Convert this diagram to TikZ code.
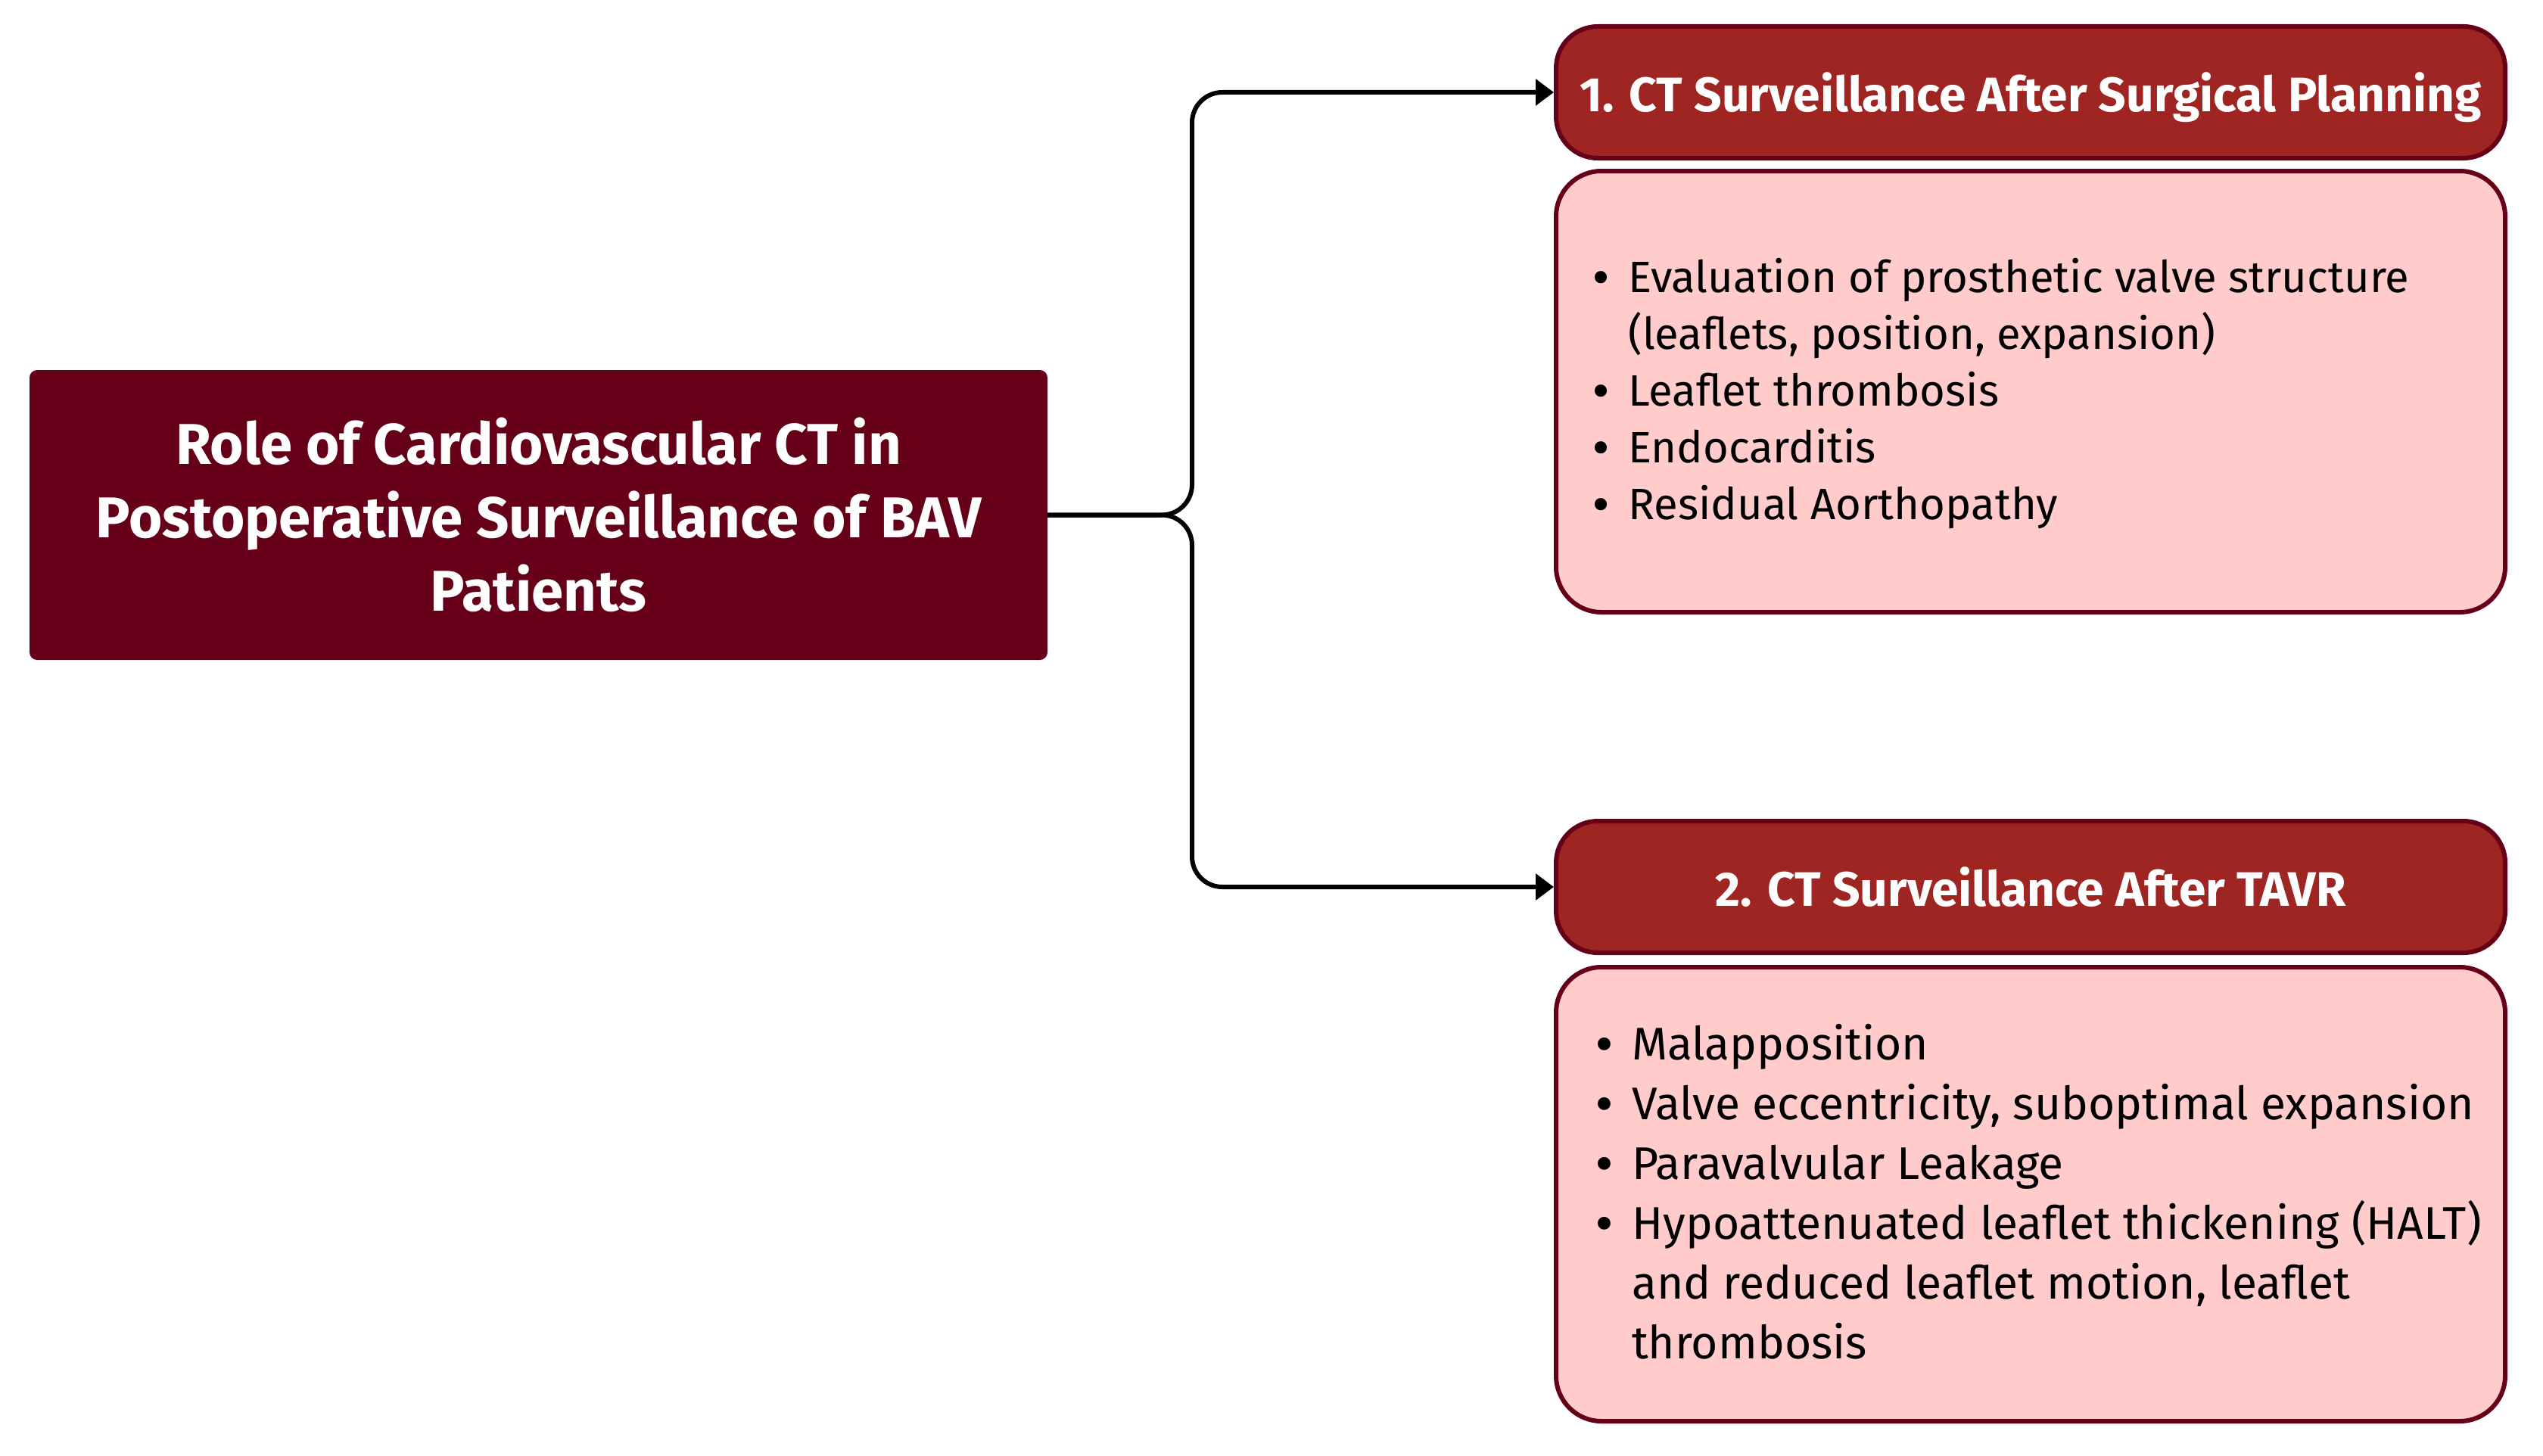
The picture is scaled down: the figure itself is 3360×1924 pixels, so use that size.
\documentclass[tikz,border=0pt]{standalone}
\usepackage{fontspec}
\setmainfont{Fira Sans}
\usetikzlibrary{arrows.meta}
\definecolor{maroon}{HTML}{660019}
\definecolor{hdr}{HTML}{9E2521}
\definecolor{pinkfill}{HTML}{FFCBCB}
\newcommand{\bdot}{{\bfseries\textbullet}}
\tikzset{
  titlebox/.style={fill=maroon, rounded corners=10pt, text=white, font=\bfseries\fontsize{76}{97}\selectfont, align=center, inner sep=0pt},
  hdrbox/.style={fill=hdr, draw=maroon, line width=6pt, rounded corners=55pt, text=white, font=\bfseries\fontsize{64}{70}\selectfont, inner sep=0pt, text depth=0pt, minimum width=1254pt, minimum height=174pt},
  contbox/.style={fill=pinkfill, draw=maroon, line width=6pt, rounded corners=60pt, inner sep=0pt, minimum width=1254pt},
  bullets/.style={anchor=west, inner sep=0pt, text=black},
  conn/.style={line width=6pt, rounded corners=40pt, -{Triangle[length=24pt,width=34pt]}},
}
\begin{document}
\begin{tikzpicture}[x=1pt,y=-1pt]
\useasboundingbox (0,0) rectangle (3360,1924);
\node[titlebox, minimum width=1345pt, minimum height=383pt] (title) at (711.5,680.5)
  {Role of Cardiovascular CT in\\Postoperative Surveillance of BAV\\Patients};
\node[hdrbox] (h1) at (2683,122) {1. CT Surveillance After Surgical Planning};
\node[contbox, minimum height=583pt] (c1) at (2683,517.5) {};
\node[hdrbox] (h2) at (2683,1172) {2. CT Surveillance After TAVR};
\node[contbox, minimum height=600pt] (c2) at (2683,1578) {};
\node[bullets, font=\fontsize{58}{75}\selectfont] (c1t) at ([xshift=52pt,yshift=-4pt]c1.west)
  {\begin{tabular}{@{}l@{\hspace{26pt}}l@{}}
   \bdot & Evaluation of prosthetic valve structure\\
         & (leaflets, position, expansion)\\
   \bdot & Leaflet thrombosis\\
   \bdot & Endocarditis\\
   \bdot & Residual Aorthopathy
   \end{tabular}};
\node[bullets, font=\fontsize{60.5}{79}\selectfont] (c2t) at ([xshift=56pt,yshift=-4pt]c2.west)
  {\begin{tabular}{@{}l@{\hspace{26pt}}l@{}}
   \bdot & Malapposition\\
   \bdot & Valve eccentricity, suboptimal expansion\\
   \bdot & Paravalvular Leakage\\
   \bdot & Hypoattenuated leaflet thickening (HALT)\\
         & and reduced leaflet motion, leaflet\\
         & thrombosis
   \end{tabular}};
\coordinate (j) at (1575,680.5);
\draw[conn] (title.east) -- (j) |- (h1.west);
\draw[conn] (title.east) -- (j) |- (h2.west);
\end{tikzpicture}
\end{document}
